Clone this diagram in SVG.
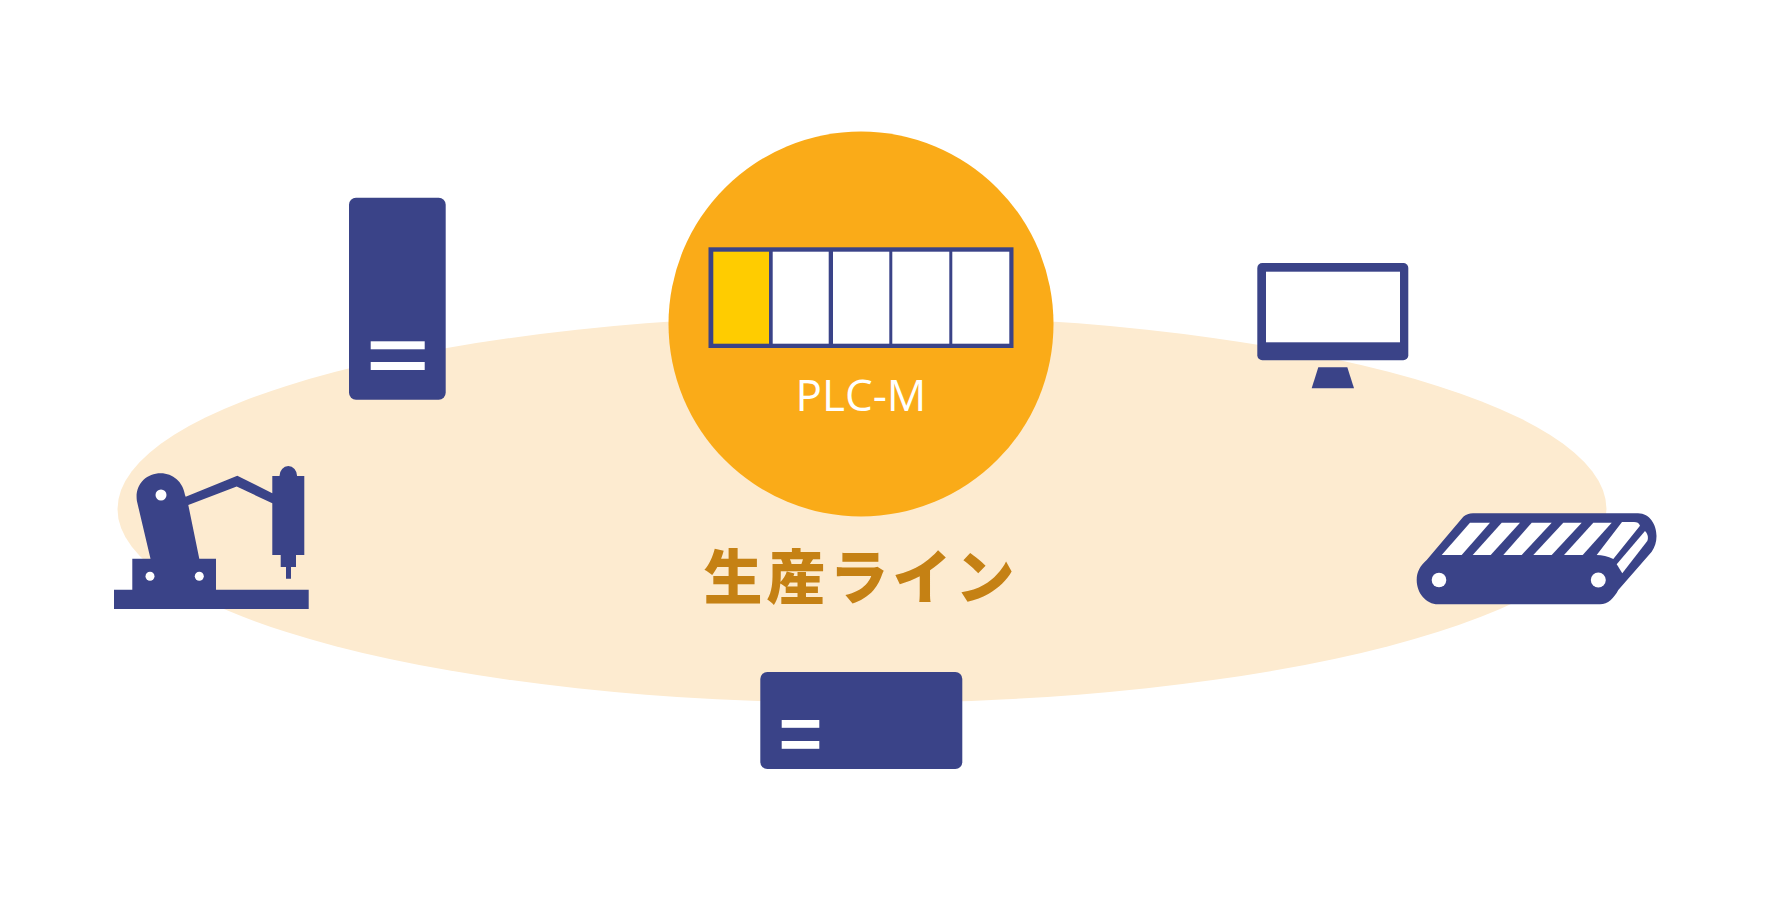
<svg xmlns="http://www.w3.org/2000/svg" width="1770" height="900" viewBox="0 0 1770 900">
<style>
.n{fill:#3a4388}.w{fill:#fff}
</style>
<rect width="1770" height="900" fill="#fff"/>
<g id="line-area"><ellipse cx="862" cy="509" rx="744.500" ry="194" fill="#fdebd0"/>
<text x="861" y="599" text-anchor="middle" font-family="'Noto Sans CJK JP','Noto Sans',sans-serif" font-weight="900" font-size="59" letter-spacing="4" fill="#c58114">生産ライン</text></g>
<g id="plc-m">
<circle cx="861" cy="324" r="192.500" fill="#faab18"/>
<rect x="708.500" y="247.300" width="305" height="100.700" class="n"/>
<rect x="713.300" y="251.700" width="55.700" height="92" fill="#ffcc00"/>
<rect x="772.700" y="251.700" width="56" height="92" class="w"/>
<rect x="833" y="251.700" width="56.300" height="92" class="w"/>
<rect x="892.300" y="251.700" width="57" height="92" class="w"/>
<rect x="952.300" y="251.700" width="57" height="92" class="w"/>
<text x="861" y="411" text-anchor="middle" font-family="'Open Sans','Noto Sans',sans-serif" font-weight="400" font-size="44" fill="#fff">PLC-M</text>
</g>
<g id="tower-server">
<rect x="349" y="197.700" width="96.700" height="202" rx="7" class="n"/>
<rect x="370.700" y="341.300" width="54" height="8" class="w"/>
<rect x="370.700" y="362" width="54" height="8" class="w"/>
</g>
<g id="box-device">
<rect x="760.300" y="672" width="202" height="97" rx="7" class="n"/>
<rect x="781.700" y="720" width="37.600" height="7.800" class="w"/>
<rect x="781.700" y="741" width="37.600" height="7.800" class="w"/>
</g>
<g id="monitor">
<rect x="1257.300" y="263" width="151" height="97.300" rx="5" class="n"/>
<rect x="1266" y="271.700" width="134" height="70.600" class="w"/>
<path class="n" d="M1318.300 367.300H1347.300L1354 388.300H1311.700Z"/>
</g>
<g id="robot">
<path class="n" d="M114 609V589.700H132.300V558.700H150.500L136.900 501C134.500 485 146 473.300 160.700 473.300C173 473.300 183 482 185 495L185.700 496.700L237.300 475.700L272.300 493.300V476H279.500A8.800 10 0 0 1 297.100 476H304.300V555H296V567H291V578.700H286V567H280.700V555H272.300V503.300L236.700 486.500L188.300 505L199.300 558.700H216V589.700H308.700V609Z"/>
<circle cx="161" cy="495" r="5.500" class="w"/>
<circle cx="150" cy="576.300" r="4.500" class="w"/>
<circle cx="199.300" cy="576.300" r="4.500" class="w"/>
</g>
<g id="conveyor">
<path class="n" d="M1473 513.300H1638C1650 513.300 1656.500 525 1656.500 536C1656.500 542 1655 547 1651.700 551.700L1618.300 590C1614 598 1608 604.300 1600 604.300H1438C1426 604.300 1416.700 593 1416.700 580C1416.700 572 1420 566 1426.700 560L1463.300 516.700C1466 514.500 1469 513.300 1473 513.300Z"/>
<g class="w">
<path d="M1441.700 555L1470 522.700H1490L1461.700 555Z"/>
<path d="M1472.700 555L1501.700 522.700H1520L1490.700 555Z"/>
<path d="M1503.300 555L1531.700 522.700H1551.700L1521.700 555Z"/>
<path d="M1533.300 555L1563.300 522.700H1581.700L1551.700 555Z"/>
<path d="M1564 555L1593.300 522.700H1611.700L1582.700 555Z"/>
<path d="M1596.700 555L1622 522H1634C1637 522 1639 523 1640 525.700L1613.300 559C1608 556.500 1602 555 1596.700 555Z"/>
<path d="M1645 531C1648 534 1648.500 538 1647.300 541L1622.300 573.300L1616.700 564.300Z"/>
</g>
<circle cx="1439" cy="580" r="7.300" class="w"/>
<circle cx="1598.300" cy="580" r="7.500" class="w"/>
</g>
</svg>
